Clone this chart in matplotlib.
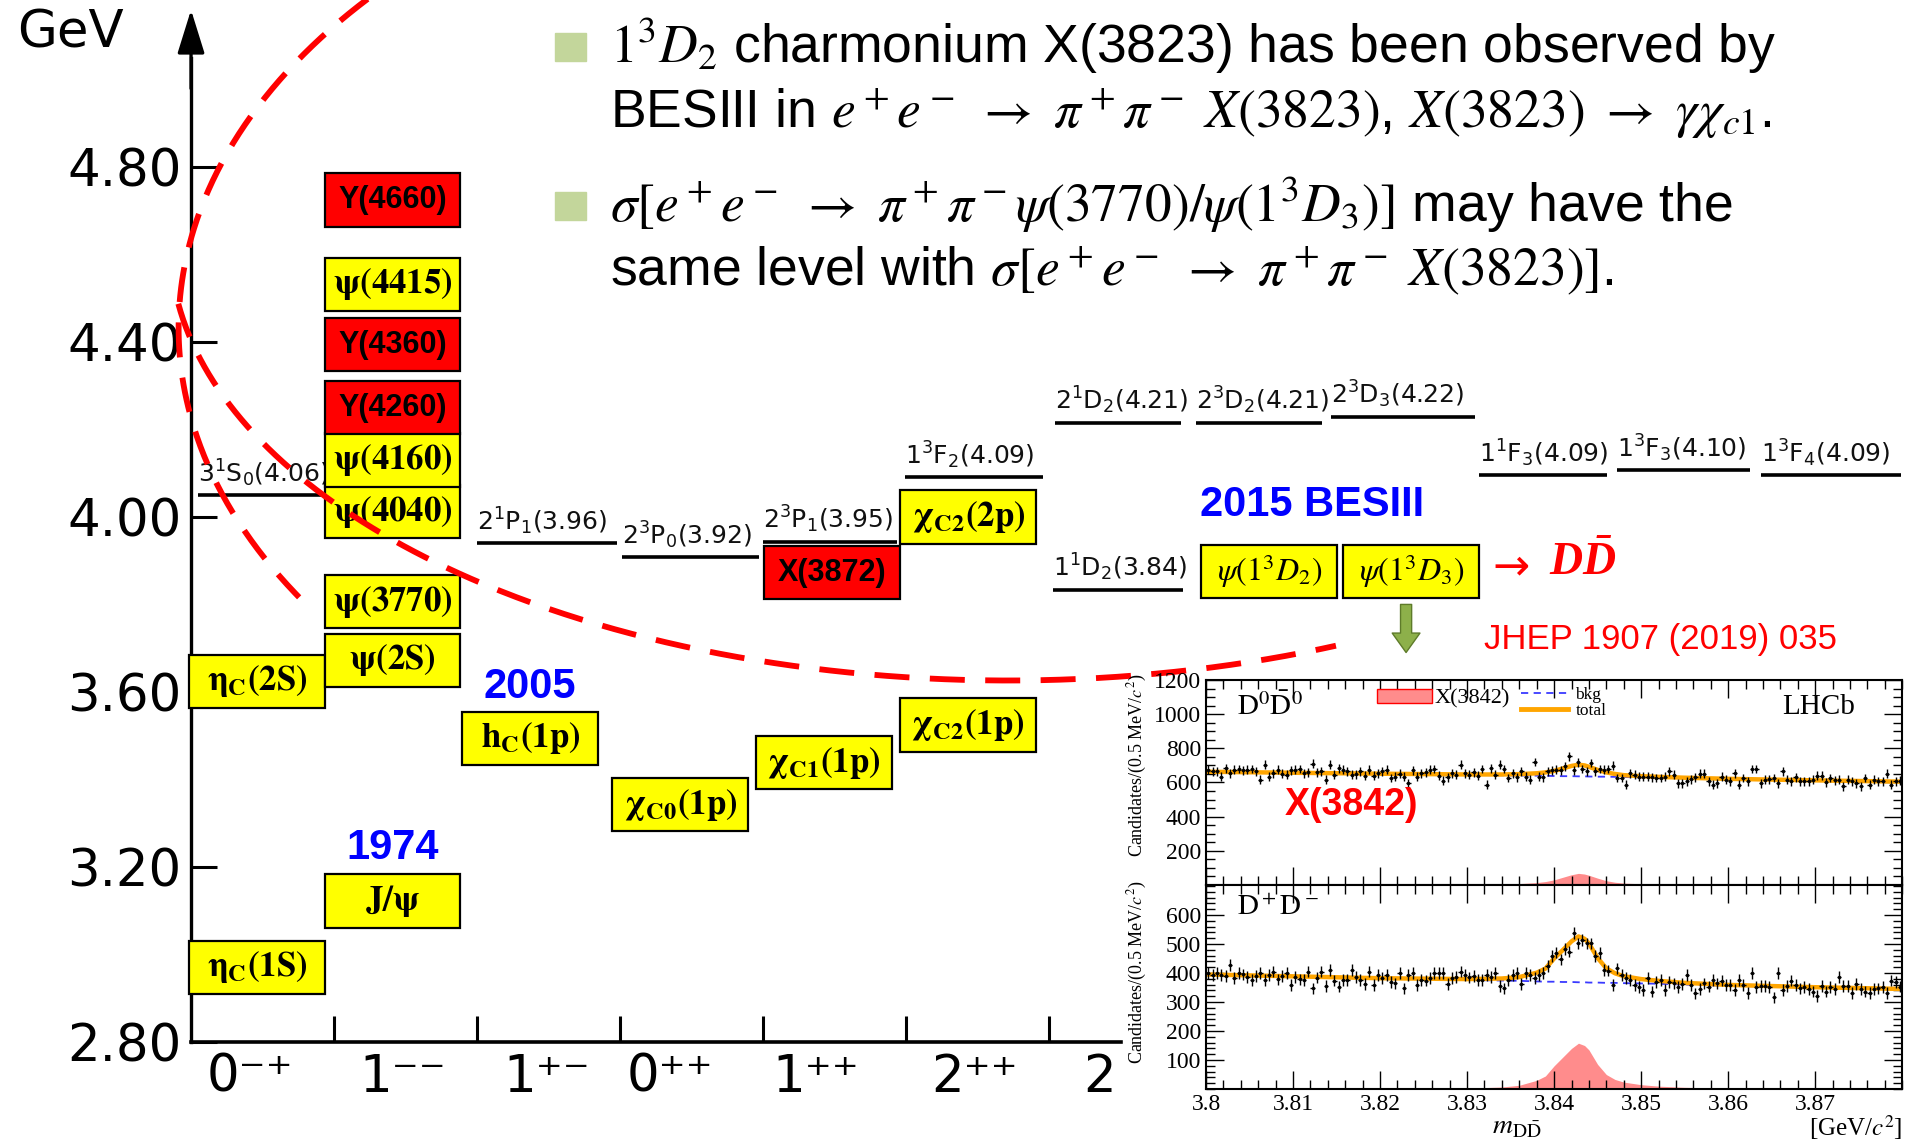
import numpy as np
import matplotlib.pyplot as plt
from matplotlib.patches import Patch, Rectangle
from matplotlib.lines import Line2D
from matplotlib.ticker import MultipleLocator

plt.rcParams['font.family'] = ['Liberation Sans', 'DejaVu Sans']
plt.rcParams['mathtext.fontset'] = 'custom'
plt.rcParams['mathtext.rm'] = 'Liberation Serif'
plt.rcParams['mathtext.it'] = 'Liberation Serif:italic'
plt.rcParams['mathtext.bf'] = 'Liberation Serif:italic:bold'

# ---- charmonium spectrum ----
jpc_labels = ['0⁻⁺', '1⁻⁻', '1⁺⁻', '0⁺⁺', '1⁺⁺', '2⁺⁺', '2']
jpc_pos = [0.41, 1.48, 2.49, 3.35, 4.37, 5.48, 6.35]
mass_ticks = [2.80, 3.20, 3.60, 4.00, 4.40, 4.80]

state_names = [r'$\mathbf{\eta_C(1S)}$', r'$\mathbf{J/\psi}$', r'$\mathbf{\eta_C(2S)}$',
               r'$\mathbf{\psi(2S)}$', r'$\mathbf{\psi(3770)}$', r'$\mathbf{\psi(4040)}$',
               r'$\mathbf{\psi(4160)}$', 'Y(4260)', 'Y(4360)', r'$\mathbf{\psi(4415)}$',
               'Y(4660)', r'$\mathbf{h_C(1p)}$', r'$\mathbf{\chi_{C0}(1p)}$',
               r'$\mathbf{\chi_{C1}(1p)}$', r'$\mathbf{\chi_{C2}(1p)}$', 'X(3872)',
               r'$\mathbf{\chi_{C2}(2p)}$', r'$\psi(1^3D_2)$', r'$\psi(1^3D_3)$']
state_col = [0.461, 1.409, 0.461, 1.409, 1.409, 1.409, 1.409, 1.409, 1.409, 1.409,
             1.409, 2.373, 3.422, 4.425, 5.432, 4.480, 5.436, 7.541, 8.533]
state_mass = [2.970, 3.122, 3.624, 3.672, 3.806, 4.012, 4.130, 4.250, 4.394, 4.532,
              4.725, 3.494, 3.342, 3.438, 3.524, 3.873, 4.000, 3.876, 3.876]
state_exotic = [0, 0, 0, 0, 0, 0, 0, 1, 1, 0, 1, 0, 0, 0, 0, 1, 0, 0, 0]

level_labels = ['3^1S_0(4.06)', '2^1P_1(3.96)', '2^3P_0(3.92)', '2^3P_1(3.95)',
                '1^3F_2(4.09)', '2^1D_2(4.21)', '2^3D_2(4.21)', '2^3D_3(4.22)',
                '1^1D_2(3.84)', '1^1F_3(4.09)', '1^3F_3(4.10)', '1^3F_4(4.09)']
level_mass = [4.050, 3.940, 3.908, 3.943, 4.091, 4.215, 4.216, 4.229, 3.834,
              4.095, 4.107, 4.095]
level_x0 = [0.05, 2.00, 3.015, 4.00, 4.99, 6.04, 7.03, 7.97, 6.03, 9.01, 9.97, 10.98]
level_x1 = [0.93, 2.98, 3.975, 4.94, 5.96, 6.92, 7.91, 8.98, 6.94, 9.90, 10.90, 11.96]

# ---- LHCb D Dbar mass spectra ----
fit_x = [3.800, 3.810, 3.820, 3.830, 3.834, 3.836, 3.838, 3.839, 3.840, 3.841, 3.842,
         3.8428, 3.8435, 3.844, 3.845, 3.846, 3.847, 3.848, 3.850, 3.852, 3.855,
         3.860, 3.870, 3.880]
bkg_d0 = [663, 657, 651, 645, 642, 641, 640, 639, 638, 637, 637, 636, 636, 635, 634,
          634, 633, 632, 630, 628, 625, 620, 612, 605]
sig_d0 = [0, 0, 0.5, 2, 5, 8, 14, 20, 30, 45, 60, 68, 64, 57, 40, 25, 16, 11, 7, 5,
          3, 1.5, 0.5, 0]
tot_d0 = [663, 657, 651.5, 647, 647, 649, 654, 659, 668, 682, 697, 704, 700, 692, 674,
          659, 650, 643, 637, 633, 628, 621.5, 612.5, 605]
bkg_dp = [395, 388, 381, 376, 374, 373, 371, 370, 370, 369, 369, 368, 368, 367, 367,
          366, 366, 365, 364, 363, 360, 356, 350, 345]
sig_dp = [0, 0.5, 1, 3, 7, 13, 30, 45, 80, 110, 140, 158, 150, 135, 85, 50, 33, 24,
          15, 10, 6, 3, 1, 0]
tot_dp = [395, 388.5, 382, 379, 381, 386, 401, 415, 450, 479, 509, 526, 518, 502, 452,
          416, 399, 389, 379, 373, 366, 359, 351, 345]

counts_d0 = [675, 665, 665, 635, 684, 655, 675, 679, 671, 675,
             679, 665, 616, 704, 635, 655, 675, 651, 645, 671,
             675, 679, 655, 661, 710, 659, 665, 616, 704, 645,
             684, 675, 665, 645, 649, 665, 639, 675, 639, 655,
             665, 675, 626, 635, 651, 635, 596, 671, 635, 655,
             659, 675, 679, 639, 610, 631, 655, 645, 704, 655,
             645, 659, 639, 679, 586, 684, 645, 704, 679, 626,
             655, 631, 665, 635, 616, 720, 635, 631, 665, 671, 675,
             671, 694, 753, 671, 718, 679, 665, 714, 665, 679,
             675, 679, 698, 626, 626, 586, 655, 645, 635, 635,
             635, 631, 626, 626, 635, 665, 645, 596, 596, 606,
             620, 631, 651, 651, 606, 586, 596, 635, 616, 606,
             655, 586, 626, 606, 679, 679, 596, 616, 620, 626,
             596, 665, 616, 606, 631, 606, 606, 606, 616, 639,
             639, 600, 626, 612, 616, 577, 616, 606, 596, 577,
             626, 586, 616, 606, 606, 651, 586, 606, 610]
counts_dp = [399, 393, 399, 393, 390, 428, 382, 399, 395, 387,
             376, 390, 401, 376, 393, 405, 378, 390, 399, 359,
             387, 378, 376, 405, 347, 384, 405, 355, 410, 374,
             353, 376, 376, 410, 387, 376, 362, 405, 359, 393,
             382, 393, 370, 364, 399, 347, 393, 399, 359, 376,
             374, 382, 399, 401, 401, 362, 382, 387, 405, 393,
             385, 390, 376, 376, 393, 387, 399, 355, 347, 376,
             393, 399, 362, 399, 393, 382, 393, 399, 424, 459, 470,
             447, 482, 474, 537, 502, 514, 502, 502, 459, 468,
             410, 408, 359, 416, 393, 382, 376, 359, 351, 341,
             382, 336, 370, 376, 341, 370, 364, 351, 362, 393,
             359, 330, 344, 364, 353, 376, 364, 374, 359, 359,
             341, 376, 359, 332, 399, 351, 355, 355, 351, 316,
             399, 341, 355, 374, 359, 347, 351, 344, 336, 321,
             355, 336, 351, 344, 387, 355, 355, 332, 362, 344,
             336, 332, 344, 347, 351, 332, 374, 370, 353]
err_d0 = 26
err_dp = 20
bin_width = 0.0005
m_ticks = [3.80, 3.81, 3.82, 3.83, 3.84, 3.85, 3.86, 3.87]
m_ticklabels = ['3.8', '3.81', '3.82', '3.83', '3.84', '3.85', '3.86', '3.87']

RED = '#FF0000'
BLUE = '#0000FF'

fig = plt.figure(figsize=(19.05, 11.40), dpi=100)
ax = fig.add_axes([0, 0, 1, 1])
ax.set_xlim(-1.336, 11.986)
ax.set_ylim(2.575, 5.1825)
ax.spines['top'].set_visible(False)
ax.spines['right'].set_visible(False)
ax.spines['left'].set_position(('data', 0))
ax.spines['bottom'].set_position(('data', 2.80))
ax.spines['left'].set_bounds(2.80, 5.05)
ax.spines['bottom'].set_bounds(0, 6.5)
ax.spines['left'].set_linewidth(2.4)
ax.spines['bottom'].set_linewidth(2.6)

ax.set_yticks(mass_ticks, [f'{m:.2f}' for m in mass_ticks])
ax.tick_params(axis='y', direction='in', length=19, width=2.2, labelsize=37, pad=7,
               labelfontfamily='DejaVu Sans')
ax.set_xticks(range(1, 7), [''] * 6)
ax.set_xticks(jpc_pos, jpc_labels, minor=True)
ax.tick_params(axis='x', which='major', direction='in', length=19, width=2.2)
ax.tick_params(axis='x', which='minor', length=0, labelsize=37, pad=8,
               labelfontfamily='DejaVu Sans')
ax.annotate('', xy=(0, 5.16), xytext=(0, 4.98),
            arrowprops=dict(arrowstyle='-|>,head_length=0.9,head_width=0.28',
                            color='black', lw=2.4, mutation_scale=30,
                            shrinkA=0, shrinkB=0))
fig.text(17 / 1905, 1 - 8 / 1140, 'GeV', fontsize=37, family='DejaVu Sans',
         ha='left', va='top')

# potential-model levels
ax.hlines(level_mass, level_x0, level_x1, colors='black', lw=2.6, zorder=2)
for lab, m, x0 in zip(level_labels, level_mass, level_x0):
    ax.text(x0, m + 0.03, r'$\mathrm{' + lab + '}$', fontsize=18,
            math_fontfamily='dejavusans', ha='left', va='baseline', color='#111111',
            zorder=2)

# observed states
box_w = 0.95
box_h = 0.122
face = [RED if e else '#FFFF00' for e in state_exotic]
ax.bar(state_col, box_h, bottom=np.array(state_mass) - box_h / 2, width=box_w,
       color=face, edgecolor='black', linewidth=1.6, zorder=3)
for name, x, m in zip(state_names, state_col, state_mass):
    if name.startswith(r'$\psi(1'):
        ax.text(x, m, name, fontsize=23, math_fontfamily='stix', ha='center',
                va='center', zorder=4)
    elif name.startswith('$'):
        ax.text(x, m, name, fontsize=25, math_fontfamily='stix', ha='center',
                va='center', zorder=4)
    else:
        ax.text(x, m, name, fontsize=22, fontweight='bold', ha='center',
                va='center', zorder=4)

for txt, x, y in [('1974', 1.409, 3.243), ('2005', 2.367, 3.612),
                  ('2015 BESIII', 7.839, 4.027)]:
    ax.text(x, y, txt, fontsize=30, fontweight='bold', color=BLUE,
            ha='center', va='center', zorder=5)

ax.text(9.10, 3.885, '→', fontsize=32, family='DejaVu Sans', color=RED,
        ha='left', va='center', zorder=5)
ax.text(9.497, 3.894, r'$\mathbf{D\bar{D}}$', fontsize=33, color=RED,
        ha='left', va='center', zorder=5)
ax.annotate('', xy=(8.497, 3.690), xytext=(8.497, 3.800),
            arrowprops=dict(arrowstyle='simple,head_length=0.7,head_width=1.0,tail_width=0.4',
                            fc='#8DB04A', ec='#5E7B2A', lw=1, mutation_scale=20,
                            shrinkA=0, shrinkB=0), zorder=5)
fig.text(1484 / 1905, 1 - 640 / 1140, 'JHEP 1907 (2019) 035', fontsize=25,
         color=RED, ha='left', va='center')

# red dashed highlight
dash = dict(color=RED, lw=4.2, ls=(0, (6, 3.5)), solid_capstyle='butt', zorder=8)
t = np.radians(np.linspace(128, 212, 300))
ax.plot(5.461 + 5.548 * np.cos(t), 4.432 + 1.162 * np.sin(t), **dash)
t = np.radians(np.linspace(188, 293, 400))
ax.plot(5.716 + 5.862 * np.cos(t), 4.627 + 1.001 * np.sin(t), **dash)

# bullet text
for yb in (0.9465, 0.807):
    fig.patches.append(Rectangle((555 / 1905, yb), 31 / 1905, 28 / 1140,
                                 transform=fig.transFigure, color='#C3D69B'))
lines = [r'$1^3D_2$ charmonium X(3823) has been observed by',
         r'BESIII in $e^+e^-\ \rightarrow\ \pi^+\pi^-\ X(3823)$, $X(3823)\ \rightarrow\ \gamma\chi_{c1}$.',
         r'$\sigma[e^+e^-\ \rightarrow\ \pi^+\pi^-\psi(3770)/\psi(1^3D_3)]$ may have the',
         r'same level with $\sigma[e^+e^-\ \rightarrow\ \pi^+\pi^-\ X(3823)]$.']
for txt, yb in zip(lines, [0.9447, 0.8877, 0.8053, 0.750]):
    fig.text(610 / 1905, yb, txt, fontsize=38.5, math_fontfamily='stix',
             ha='left', va='baseline')

# ---- inset: LHCb spectra ----
bins = 3.80 + bin_width / 2 + bin_width * np.arange(len(counts_d0))
ax_d0 = fig.add_axes([0.6331, 0.2237, 0.3654, 0.1798])
ax_dp = fig.add_axes([0.6331, 0.0447, 0.3654, 0.1789])
panels = [(ax_d0, counts_d0, err_d0, bkg_d0, sig_d0, tot_d0, 1200),
          (ax_dp, counts_dp, err_dp, bkg_dp, sig_dp, tot_dp, 703)]
for a, cnt, err, bkg, sig, tot, ymax in panels:
    a.fill_between(fit_x, sig, color='#FF8C8C', lw=0, zorder=1)
    a.plot(fit_x, bkg, color='#3A3AFF', lw=1.3, ls=(0, (4, 3)), zorder=2)
    a.plot(fit_x, tot, color='#FFA500', lw=3.2, zorder=2)
    a.errorbar(bins, cnt, yerr=err, xerr=bin_width / 2, fmt='.', ms=3,
               color='black', elinewidth=1.0, capsize=0, zorder=3)
    a.set_xlim(3.80, 3.88)
    a.set_ylim(0, ymax)
    a.set_xticks(m_ticks, m_ticklabels)
    a.xaxis.set_minor_locator(MultipleLocator(0.002))
    a.tick_params(which='both', direction='in', top=True, right=True,
                  labelsize=17, labelfontfamily='Liberation Serif', width=1)
    a.tick_params(which='major', length=13)
    a.tick_params(which='minor', length=6.5)
    for s in a.spines.values():
        s.set_linewidth(1.5)
    a.set_ylabel(r'Candidates/(0.5 MeV/$c^2$)', fontsize=13, family='Liberation Serif',
                 math_fontfamily='stix')

ax_d0.set_yticks([200, 400, 600, 800, 1000, 1200])
ax_d0.yaxis.set_minor_locator(MultipleLocator(50))
ax_d0.tick_params(labelbottom=False)
ax_d0.yaxis.set_label_coords(-0.082, 0.585)
ax_dp.set_yticks([100, 200, 300, 400, 500, 600])
ax_dp.yaxis.set_minor_locator(MultipleLocator(20))
ax_dp.yaxis.set_label_coords(-0.082, 0.574)
ax_dp.set_xlabel(r'$m_{\mathrm{D\bar{D}}}$', fontsize=20, math_fontfamily='stix')
ax_dp.xaxis.set_label_coords(0.447, -0.125)
ax_dp.text(1.0, -0.118, r'[GeV/$c^2$]', transform=ax_dp.transAxes, fontsize=18,
           family='Liberation Serif', math_fontfamily='stix', ha='right', va='top')

ax_d0.text(0.0445, 0.868, r'$\mathrm{D^0\bar{D}^0}$', transform=ax_d0.transAxes,
           fontsize=21, math_fontfamily='stix', ha='left', va='center')
ax_d0.text(0.932, 0.868, 'LHCb', transform=ax_d0.transAxes, fontsize=21,
           family='Liberation Serif', ha='right', va='center')
ax_dp.text(0.0445, 0.892, r'$\mathrm{D^+D^-}$', transform=ax_dp.transAxes,
           fontsize=21, math_fontfamily='stix', ha='left', va='center')
ax_d0.text(0.1135, 0.39, 'X(3842)', transform=ax_d0.transAxes, fontsize=27,
           fontweight='bold', color=RED, ha='left', va='center')

leg1 = ax_d0.legend([Patch(facecolor='#FF8C8C', edgecolor=RED)], ['X(3842)'],
                    loc='upper left', bbox_to_anchor=(0.245, 0.955), frameon=False,
                    prop=dict(family='Liberation Serif', size=16), handlelength=2.5,
                    handleheight=0.55, handletextpad=0.1, borderaxespad=0, borderpad=0)
ax_d0.add_artist(leg1)
ax_d0.legend([Line2D([], [], color='#3A3AFF', lw=1.3, ls=(0, (4, 3))),
              Line2D([], [], color='#FFA500', lw=3.5)], ['bkg', 'total'],
             loc='upper left', bbox_to_anchor=(0.452, 0.968), frameon=False,
             prop=dict(family='Liberation Serif', size=12.5), handlelength=2.7,
             handletextpad=0.45, labelspacing=0.0, borderaxespad=0, borderpad=0)

fig.savefig('out.png', dpi=100)
